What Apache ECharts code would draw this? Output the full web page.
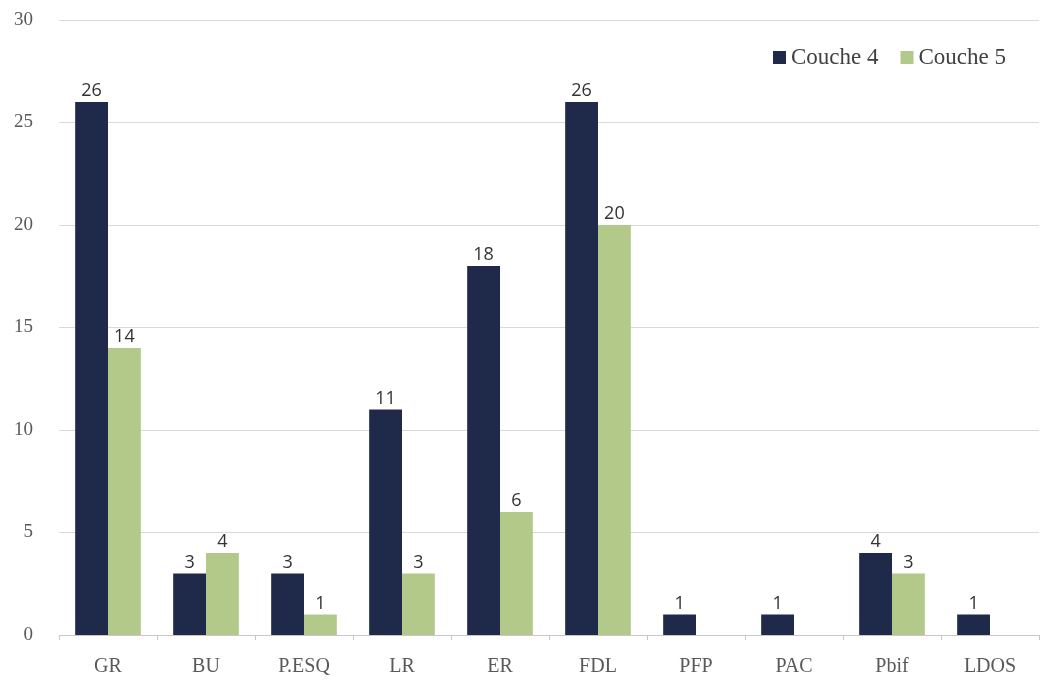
<!DOCTYPE html>
<html>
<head>
<meta charset="utf-8">
<script src="https://cdn.jsdelivr.net/npm/echarts@6/dist/echarts.min.js"></script>
<style>
  html, body { margin: 0; padding: 0; background: #fff; }
  #chart { width: 1043px; height: 682px; }
</style>
</head>
<body>
<div id="chart"></div>
<script>
// Counts per category for the two layers
const categories = ['GR', 'BU', 'P.ESQ', 'LR', 'ER', 'FDL', 'PFP', 'PAC', 'Pbif', 'LDOS'];
const couche4 = [26, 3, 3, 11, 18, 26, 1, 1, 4, 1];
const couche5 = [14, 4, 1, 3, 6, 20, null, null, 3, null];
const yTicks = [0, 5, 10, 15, 20, 25, 30];

const serif = '"Liberation Serif", "DejaVu Serif", serif';
const sans = '"Open Sans", "Noto Sans", sans-serif';

const chart = echarts.init(document.getElementById('chart'));

const labelStyle = {
  show: true,
  position: 'top',
  distance: 2,
  fontFamily: sans,
  fontSize: 18,
  color: '#333'
};

chart.setOption({
  animation: false,
  backgroundColor: '#fff',
  grid: { left: 59, right: 4, top: 20, bottom: 47, containLabel: false },
  legend: {
    top: 41,
    right: 32,
    itemWidth: 13,
    itemHeight: 13,
    itemGap: 22,
    icon: 'rect',
    textStyle: { fontFamily: serif, fontSize: 23, color: '#404040' },
    data: ['Couche 4', 'Couche 5']
  },
  xAxis: {
    type: 'category',
    data: categories,
    axisLine: { lineStyle: { color: '#c8c8c8', width: 1 } },
    axisTick: { show: true, length: 5, lineStyle: { color: '#c8c8c8' } },
    axisLabel: { fontFamily: serif, fontSize: 20, color: '#595959', margin: 22 }
  },
  yAxis: {
    type: 'value',
    min: yTicks[0],
    max: yTicks[yTicks.length - 1],
    interval: yTicks[1] - yTicks[0],
    axisLine: { show: false },
    axisTick: { show: false },
    splitLine: { lineStyle: { color: '#d9d9d9', width: 1 } },
    axisLabel: { fontFamily: serif, fontSize: 19, color: '#595959', margin: 26 }
  },
  series: [
    {
      name: 'Couche 4',
      type: 'bar',
      data: couche4,
      barGap: '0%',
      barCategoryGap: '33%',
      itemStyle: { color: '#1f2a4a' },
      label: labelStyle
    },
    {
      name: 'Couche 5',
      type: 'bar',
      data: couche5,
      itemStyle: { color: '#b2c98a' },
      label: labelStyle
    }
  ]
});
</script>
</body>
</html>
